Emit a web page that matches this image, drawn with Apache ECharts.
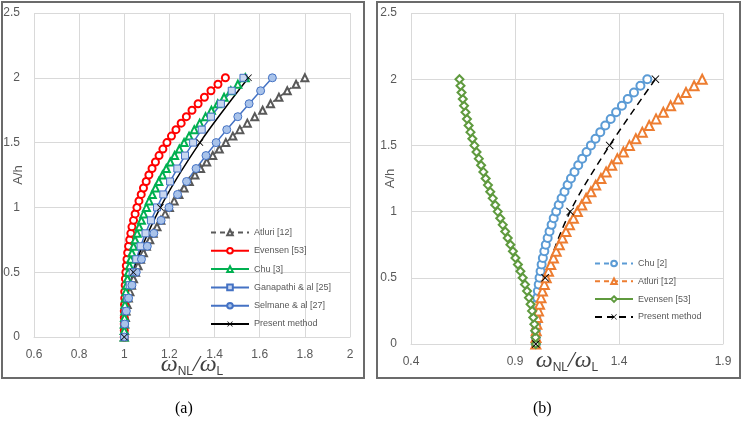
<!DOCTYPE html>
<html>
<head>
<meta charset="utf-8">
<script src="https://cdn.jsdelivr.net/npm/echarts@6/dist/echarts.min.js"></script>
<style>
  html, body { margin: 0; padding: 0; background: #fff; }
  #chart { width: 744px; height: 431px; }
</style>
</head>
<body>
<div id="chart"></div>
<script>
// amplitude ratio A/h (y values)
var ampFine = [0, 0.05, 0.1, 0.15, 0.2, 0.25, 0.3, 0.35, 0.4, 0.45, 0.5, 0.55, 0.6, 0.65, 0.7, 0.75, 0.8, 0.85, 0.9, 0.95,
  1, 1.05, 1.1, 1.15, 1.2, 1.25, 1.3, 1.35, 1.4, 1.45, 1.5, 1.55, 1.6, 1.65, 1.7, 1.75, 1.8, 1.85, 1.9, 1.95, 2];
var ampCoarse = [0, 0.1, 0.2, 0.3, 0.4, 0.5, 0.6, 0.7, 0.8, 0.9, 1, 1.1, 1.2, 1.3, 1.4, 1.5, 1.6, 1.7, 1.8, 1.9, 2];
var ampPresent = [0, 0.5, 1, 1.5, 2];

// frequency ratio wNL/wL (x values)
var atluriFreq = [1.000, 1.001, 1.002, 1.005, 1.008, 1.013, 1.018, 1.025, 1.032, 1.041, 1.050, 1.061, 1.072, 1.085, 1.098,
  1.113, 1.128, 1.145, 1.162, 1.181, 1.200, 1.221, 1.242, 1.265, 1.288, 1.313, 1.338, 1.365, 1.392, 1.421, 1.450, 1.481,
  1.512, 1.545, 1.578, 1.613, 1.648, 1.685, 1.722, 1.761, 1.800];
var evensenFreq = [1.000, 1.000, 1.000, 1.000, 1.000, 1.001, 1.002, 1.002, 1.004, 1.005, 1.007, 1.009, 1.012, 1.015, 1.019,
  1.024, 1.029, 1.034, 1.041, 1.048, 1.056, 1.065, 1.075, 1.085, 1.097, 1.109, 1.123, 1.138, 1.154, 1.171, 1.189, 1.209,
  1.229, 1.252, 1.275, 1.300, 1.327, 1.355, 1.384, 1.415, 1.448];
var chuFreq = [1.000, 1.000, 1.000, 1.001, 1.002, 1.003, 1.005, 1.007, 1.010, 1.014, 1.018, 1.023, 1.028, 1.034, 1.041,
  1.048, 1.057, 1.066, 1.076, 1.086, 1.098, 1.110, 1.124, 1.138, 1.153, 1.169, 1.186, 1.204, 1.223, 1.244, 1.265, 1.287,
  1.310, 1.334, 1.360, 1.386, 1.414, 1.442, 1.472, 1.503, 1.536];
var ganapathiFreq = [1.000, 1.002, 1.006, 1.014, 1.024, 1.037, 1.053, 1.072, 1.094, 1.118, 1.145, 1.173, 1.203, 1.235,
  1.269, 1.305, 1.343, 1.384, 1.428, 1.476, 1.528];
var selmaneFreq = [1.000, 1.002, 1.009, 1.019, 1.034, 1.053, 1.076, 1.102, 1.131, 1.163, 1.198, 1.236, 1.276, 1.318,
  1.362, 1.407, 1.454, 1.503, 1.553, 1.604, 1.656];
var presentFreqA = [1.000, 1.040, 1.160, 1.335, 1.550];
var evensenSoftFreq = [1.000, 0.999, 0.997, 0.993, 0.988, 0.982, 0.975, 0.967, 0.958, 0.948, 0.937, 0.926, 0.914, 0.902,
  0.890, 0.878, 0.865, 0.853, 0.841, 0.829, 0.817, 0.805, 0.793, 0.781, 0.770, 0.759, 0.748, 0.737, 0.726, 0.715, 0.705,
  0.695, 0.686, 0.677, 0.669, 0.662, 0.655, 0.649, 0.643, 0.638, 0.633];
var presentFreqB = [1.000, 1.045, 1.165, 1.355, 1.575];

var xTicksA = [0.6, 2, 0.2];   // min, max, step
var xTicksB = [0.4, 1.9, 0.5];
var yTicks = [0, 2.5, 0.5];

function pairs(xs, ys) {
  return xs.map(function (x, i) { return [x, ys[i]]; });
}

var crossPath = 'path://M0,0.8L0.8,0L5,4.2L9.2,0L10,0.8L5.8,5L10,9.2L9.2,10L5,5.8L0.8,10L0,9.2L4.2,5Z';
var grayText = '#595959';
var gridColor = '#d9d9d9';

var xName = '{w|ω}{s|NL}{w|/ω}{s|L}';
var xNameStyle = {
  rich: {
    w: { fontFamily: 'Liberation Serif', fontStyle: 'italic', fontSize: 24, color: '#404040', lineHeight: 26 },
    s: { fontFamily: 'Liberation Sans', fontSize: 12, color: '#404040', lineHeight: 12, verticalAlign: 'bottom' }
  }
};

function xAxisOf(t, idx, gap) {
  return {
    type: 'value', gridIndex: idx, min: t[0], max: t[1], interval: t[2],
    name: xName, nameLocation: 'middle', nameGap: gap, nameTextStyle: xNameStyle,
    nameMoveOverlap: false,
    axisLine: { show: true, lineStyle: { color: gridColor } },
    axisTick: { show: false },
    axisLabel: { color: grayText, fontSize: 12, fontFamily: 'Liberation Sans', margin: 12 },
    splitLine: { show: true, showMinLine: true, showMaxLine: true, lineStyle: { color: gridColor } }
  };
}
function yAxisOf(idx, gap) {
  return {
    type: 'value', gridIndex: idx, min: yTicks[0], max: yTicks[1], interval: yTicks[2],
    name: 'A/h', nameLocation: 'middle', nameGap: gap, nameMoveOverlap: false,
    nameTextStyle: { color: grayText, fontSize: 13, fontFamily: 'Liberation Sans' },
    axisLine: { show: false },
    axisTick: { show: false },
    axisLabel: { color: grayText, fontSize: 12, fontFamily: 'Liberation Sans', margin: 14 },
    splitLine: { showMinLine: true, showMaxLine: true, lineStyle: { color: gridColor } }
  };
}

var myChart = echarts.init(document.getElementById('chart'));
var option = {
  animation: false,
  backgroundColor: '#fff',
  grid: [
    { left: 34, right: 394, top: 13, bottom: 94, outerBoundsMode: 'none', containLabel: false },
    { left: 411, right: 21, top: 13, bottom: 87, outerBoundsMode: 'none', containLabel: false }
  ],
  xAxis: [xAxisOf(xTicksA, 0, 15), xAxisOf(xTicksB, 1, 4)],
  yAxis: [yAxisOf(0, 9), yAxisOf(1, 14)],
  legend: [{
    orient: 'vertical', left: 210, top: 228, padding: 0,
    itemWidth: 38, itemHeight: 7, itemGap: 9.3,
    textStyle: { fontSize: 9, color: grayText, fontFamily: 'Liberation Sans' },
    data: ['Atluri [12]', 'Evensen [53]', 'Chu [3]', 'Ganapathi & al [25]', 'Selmane & al [27]', 'Present method']
  }, {
    orient: 'vertical', left: 594, top: 259, padding: 0,
    itemWidth: 38, itemHeight: 7, itemGap: 8.8,
    textStyle: { fontSize: 9, color: grayText, fontFamily: 'Liberation Sans' },
    data: ['Chu [2]', 'Atluri [12] ', 'Evensen [53] ', 'Present method ']
  }],
  graphic: [
    { type: 'rect', shape: { x: 2, y: 2, width: 362, height: 376 }, style: { fill: 'none', stroke: '#6b6b6b', lineWidth: 2 } },
    { type: 'rect', shape: { x: 377, y: 2, width: 363, height: 376 }, style: { fill: 'none', stroke: '#6b6b6b', lineWidth: 2 } },
    { type: 'text', left: 175, top: 401, style: { text: '(a)', fontSize: 16, fontFamily: 'Liberation Serif', fill: '#000' } },
    { type: 'text', left: 533, top: 401, style: { text: '(b)', fontSize: 16, fontFamily: 'Liberation Serif', fill: '#000' } }
  ],
  series: [
    // panel (a)
    {
      name: 'Atluri [12]', type: 'line', xAxisIndex: 0, yAxisIndex: 0,
      data: pairs(atluriFreq, ampFine),
      symbol: 'emptyTriangle', symbolSize: 7,
      lineStyle: { color: '#595959', width: 1.5, type: [5, 4] },
      itemStyle: { color: '#595959' }
    },
    {
      name: 'Evensen [53]', type: 'line', xAxisIndex: 0, yAxisIndex: 0,
      data: pairs(evensenFreq, ampFine),
      symbol: 'emptyCircle', symbolSize: 7,
      lineStyle: { color: '#ff0000', width: 1.5 },
      itemStyle: { color: '#ff0000' }
    },
    {
      name: 'Chu [3]', type: 'line', xAxisIndex: 0, yAxisIndex: 0,
      data: pairs(chuFreq, ampFine),
      symbol: 'emptyTriangle', symbolSize: 7,
      lineStyle: { color: '#00b050', width: 1.5 },
      itemStyle: { color: '#00b050' }
    },
    {
      name: 'Ganapathi & al [25]', type: 'line', xAxisIndex: 0, yAxisIndex: 0,
      data: pairs(ganapathiFreq, ampCoarse),
      symbol: 'rect', symbolSize: 7,
      lineStyle: { color: '#4472c4', width: 1.5 },
      itemStyle: { color: '#c9d7f0', borderColor: '#4472c4', borderWidth: 1 }
    },
    {
      name: 'Selmane & al [27]', type: 'line', xAxisIndex: 0, yAxisIndex: 0,
      data: pairs(selmaneFreq, ampCoarse),
      symbol: 'circle', symbolSize: 8,
      lineStyle: { color: '#4472c4', width: 1.5 },
      itemStyle: { color: '#a9c3ea', borderColor: '#4472c4', borderWidth: 1 }
    },
    {
      name: 'Present method', type: 'line', xAxisIndex: 0, yAxisIndex: 0,
      data: pairs(presentFreqA, ampPresent), smooth: 0.3,
      symbol: crossPath, symbolSize: 7,
      lineStyle: { color: '#000', width: 1.5 },
      itemStyle: { color: '#000' }
    },
    // panel (b)
    {
      name: 'Chu [2]', type: 'line', xAxisIndex: 1, yAxisIndex: 1,
      data: pairs(chuFreq, ampFine),
      symbol: 'emptyCircle', symbolSize: 8,
      lineStyle: { color: '#5b9bd5', width: 1.5, type: [5, 4] },
      itemStyle: { color: '#5b9bd5' }
    },
    {
      name: 'Atluri [12] ', type: 'line', xAxisIndex: 1, yAxisIndex: 1,
      data: pairs(atluriFreq, ampFine),
      symbol: 'emptyTriangle', symbolSize: 9,
      lineStyle: { color: '#ed7d31', width: 1.5, type: [5, 4] },
      itemStyle: { color: '#ed7d31' }
    },
    {
      name: 'Evensen [53] ', type: 'line', xAxisIndex: 1, yAxisIndex: 1,
      data: pairs(evensenSoftFreq, ampFine),
      symbol: 'emptyDiamond', symbolSize: 8,
      lineStyle: { color: '#5f9a3e', width: 1.5 },
      itemStyle: { color: '#5f9a3e' }
    },
    {
      name: 'Present method ', type: 'line', xAxisIndex: 1, yAxisIndex: 1,
      data: pairs(presentFreqB, ampPresent), smooth: 0.3,
      symbol: crossPath, symbolSize: 8,
      lineStyle: { color: '#000', width: 1.5, type: [7, 5] },
      itemStyle: { color: '#000' }
    }
  ]
};
myChart.setOption(option);
</script>
</body>
</html>
